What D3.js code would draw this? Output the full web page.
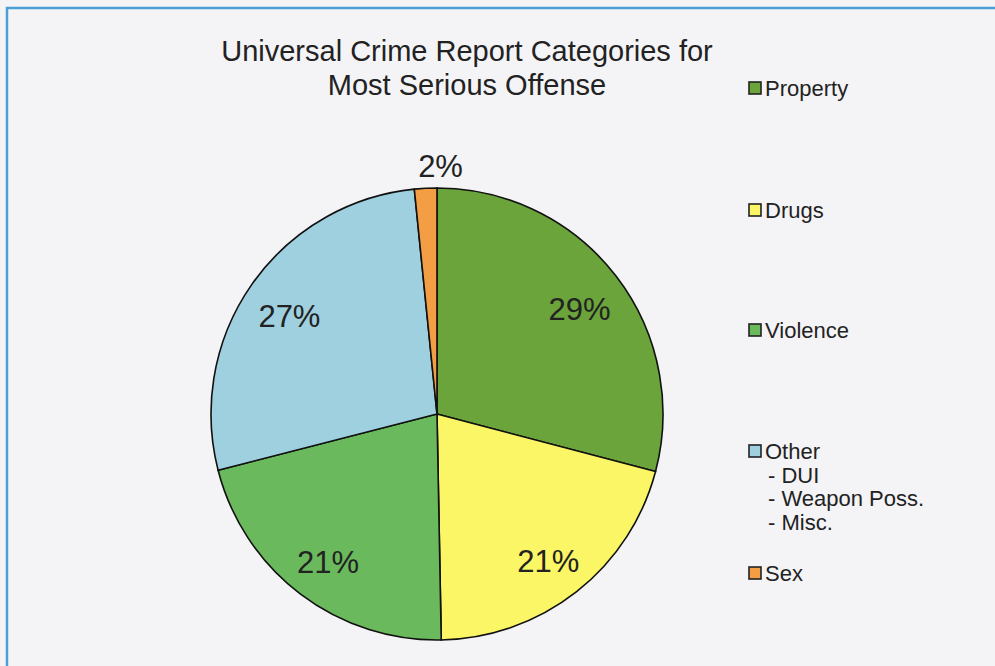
<!DOCTYPE html>
<html>
<head>
<meta charset="utf-8">
<script src="https://cdn.jsdelivr.net/npm/d3@7"></script>
<style>
  body { margin: 0; background: #f4f4f6; }
  svg { display: block; font-family: "Liberation Sans", Arial, sans-serif; }
</style>
</head>
<body>
<svg id="chart" width="995" height="666"></svg>
<script>
// data
const categories = ["Property", "Drugs", "Violence", "Other", "Sex"];
const values = [29.1, 20.6, 21.3, 27.4, 1.6];
const colors = ["#6aa43a", "#faf665", "#6bb95d", "#9fd0df", "#f39d45"];
const legendLines = [["Property"], ["Drugs"], ["Violence"], ["Other", "- DUI", "- Weapon Poss.", "- Misc."], ["Sex"]];
const titleLines = ["Universal Crime Report Categories for", "Most Serious Offense"];

const svg = d3.select("#chart");
const cx = 437, cy = 414, radius = 226;

// frame
svg.append("rect")
  .attr("x", 7).attr("y", 8)
  .attr("width", 1000).attr("height", 700)
  .attr("fill", "#f4f4f6")
  .attr("stroke", "#4aa0d6")
  .attr("stroke-width", 2.5);

// title
svg.append("g").selectAll("text")
  .data(titleLines)
  .enter()
  .append("text")
  .attr("x", 467)
  .attr("y", (d, i) => 61 + i * 34)
  .attr("text-anchor", "middle")
  .attr("font-size", 29)
  .attr("fill", "#222")
  .text(d => d);

const total = d3.sum(values);
const data = categories.map((c, i) => ({ name: c, value: values[i], color: colors[i] }));

const pie = d3.pie().value(d => d.value).sort(null);
const arcs = pie(data);
const arc = d3.arc().innerRadius(0).outerRadius(radius);
const labelArc = d3.arc().innerRadius(180).outerRadius(180);
const outerLabelArc = d3.arc().innerRadius(248).outerRadius(248);

const g = svg.append("g").attr("transform", "translate(" + cx + "," + cy + ")");

g.selectAll("path")
  .data(arcs)
  .enter()
  .append("path")
  .attr("d", arc)
  .attr("fill", d => d.data.color)
  .attr("stroke", "#111")
  .attr("stroke-width", 1.6);

const pct = d3.format(".0%");
g.selectAll("text")
  .data(arcs)
  .enter()
  .append("text")
  .attr("transform", d => {
    const small = d.data.value / total < 0.05;
    const p = small ? outerLabelArc.centroid(d) : labelArc.centroid(d);
    if (small) p[0] += 16;
    else p[1] += 5;
    return "translate(" + p + ")";
  })
  .attr("text-anchor", "middle")
  .attr("dy", "0.36em")
  .attr("font-size", 31)
  .attr("fill", "#222")
  .text(d => pct(d.data.value / total));

// legend
const legendY = [88, 210, 330, 451, 573];
const legend = svg.append("g");
legendLines.forEach((lines, i) => {
  legend.append("rect")
    .attr("x", 749).attr("y", legendY[i] - 6)
    .attr("width", 12).attr("height", 12)
    .attr("fill", colors[i])
    .attr("stroke", "#222")
    .attr("stroke-width", 1.6);
  legend.selectAll(null)
    .data(lines)
    .enter()
    .append("text")
    .attr("x", (d, j) => j === 0 ? 765 : 768)
    .attr("y", (d, j) => legendY[i] + 8 + j * 23.5)
    .attr("font-size", 22)
    .attr("fill", "#222")
    .text(d => d);
});
</script>
</body>
</html>
